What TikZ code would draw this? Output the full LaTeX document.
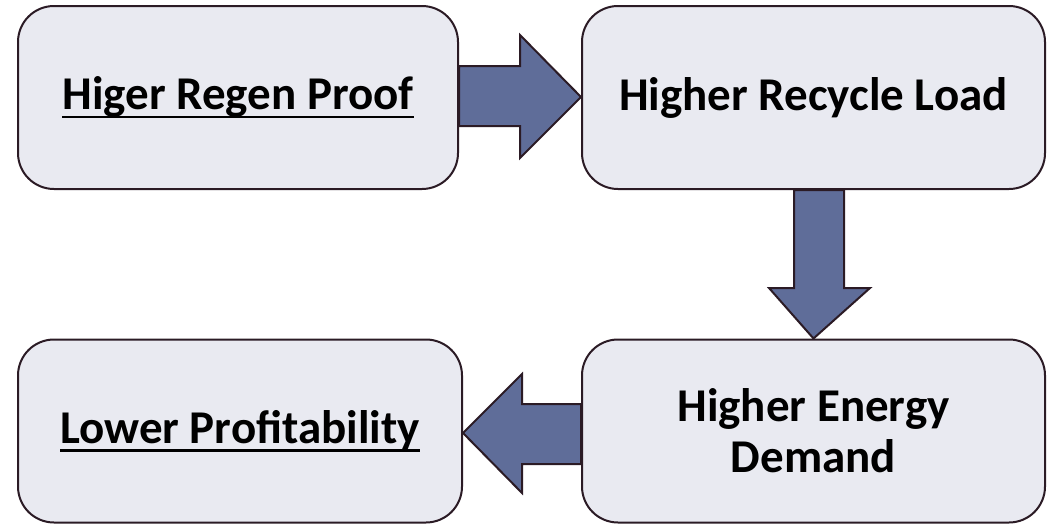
\documentclass[tikz,border=0pt]{standalone}
\usepackage{fontspec}
\setmainfont{Carlito}
\definecolor{boxfill}{HTML}{E9EAF1}
\definecolor{edge}{HTML}{2B1B25}
\definecolor{arrowfill}{HTML}{5F6D99}
\newcommand\myul[1]{\setbox0\hbox{#1}\rlap{\rule[-0.19em]{\wd0}{0.06em}}\box0}
\tikzset{
  stepbox/.style={draw=edge, line width=2pt, fill=boxfill, rounded corners=36pt,
    minimum width=440pt, minimum height=183pt, inner sep=0pt,
    font=\fontsize{47}{51}\selectfont\bfseries, align=center, text=black},
  blockarrow/.style={draw=edge, line width=2pt, fill=arrowfill, line join=miter}
}
\begin{document}
\begin{tikzpicture}[x=1pt,y=-1pt]
\useasboundingbox (0,0) rectangle (1060,525);
\node[stepbox] (b1) at (238,97.5) {\myul{Higer Regen Proof}};
\node[stepbox, minimum width=463pt] (b2) at (813.5,97.5) {Higher Recycle Load};
\node[stepbox, minimum width=463pt] (b3) at (813.5,431) {Higher Energy\\Demand};
\node[stepbox, minimum width=444pt] (b4) at (240,431) {\myul{Lower Profitability}};
% right arrow
\draw[blockarrow] (b1.east |- 0,66) -- (520,66) -- (520,35) -- (b2.west |- 0,97) -- (520,158) -- (520,126) -- (b1.east |- 0,126) -- cycle;
% down arrow
\draw[blockarrow] (794,0 |- b2.south) -- (794,288) -- (769,288) -- (b3.north) -- (870,288) -- (844,288) -- (844,0 |- b2.south) -- cycle;
% left arrow
\draw[blockarrow] (b3.west |- 0,404) -- (522,404) -- (522,374) -- (b4.east |- 0,433) -- (522,493) -- (522,464) -- (b3.west |- 0,464) -- cycle;
\end{tikzpicture}
\end{document}
